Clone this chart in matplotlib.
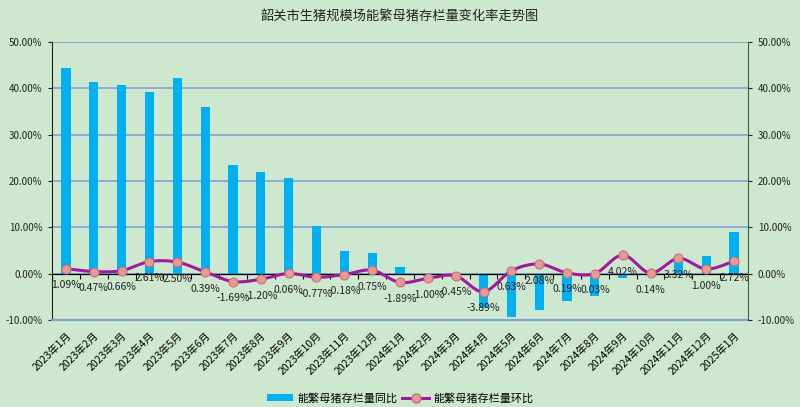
import numpy as np
import matplotlib
matplotlib.use("Agg")
import matplotlib.pyplot as plt
from matplotlib.ticker import FuncFormatter

plt.rcParams['font.family'] = ['Noto Sans CJK SC', 'DejaVu Sans']
plt.rcParams['axes.unicode_minus'] = False

# data
months = ['2023年1月', '2023年2月', '2023年3月', '2023年4月', '2023年5月', '2023年6月',
          '2023年7月', '2023年8月', '2023年9月', '2023年10月', '2023年11月', '2023年12月',
          '2024年1月', '2024年2月', '2024年3月', '2024年4月', '2024年5月', '2024年6月',
          '2024年7月', '2024年8月', '2024年9月', '2024年10月', '2024年11月', '2024年12月',
          '2025年1月']
yoy = [44.4, 41.3, 40.7, 39.2, 42.1, 35.9, 23.4, 22.0, 20.6, 10.3, 5.0, 4.5,
       1.4, -0.4, -0.9, -7.3, -9.3, -7.8, -5.8, -4.7, -0.9, 0.2, 3.6, 3.9, 8.9]
mom = [1.09, 0.47, 0.66, 2.61, 2.50, 0.39, -1.69, -1.20, 0.06, -0.77, -0.18, 0.75,
       -1.89, -1.00, -0.45, -3.89, 0.63, 2.08, 0.19, 0.03, 4.02, 0.14, 3.32, 1.00, 2.72]
yticks = [-10, 0, 10, 20, 30, 40, 50]

bg = '#CEE8CF'
bar_color = '#00B0F0'
line_color = '#A2189E'
grid_color = '#7FA3D6'


def smooth(xs, ys, n=20):
    # Bezier smoothing like a spreadsheet "smoothed line"
    xs = np.asarray(xs, float)
    ys = np.asarray(ys, float)
    px, py = [], []
    m = len(xs)
    for i in range(m - 1):
        i0, i3 = max(i - 1, 0), min(i + 2, m - 1)
        c1x = xs[i] + (xs[i + 1] - xs[i0]) / 6
        c1y = ys[i] + (ys[i + 1] - ys[i0]) / 6
        c2x = xs[i + 1] - (xs[i3] - xs[i]) / 6
        c2y = ys[i + 1] - (ys[i3] - ys[i]) / 6
        t = np.linspace(0, 1, n, endpoint=(i == m - 2))
        a, b, c, d = (1 - t) ** 3, 3 * (1 - t) ** 2 * t, 3 * (1 - t) * t ** 2, t ** 3
        px.append(a * xs[i] + b * c1x + c * c2x + d * xs[i + 1])
        py.append(a * ys[i] + b * c1y + c * c2y + d * ys[i + 1])
    return np.concatenate(px), np.concatenate(py)


fig = plt.figure(figsize=(8, 4.07), dpi=100, facecolor=bg)
ax = fig.add_axes([0.065, 0.2135, 0.87, 0.684])
ax.set_facecolor(bg)

x = np.arange(len(months))
bars = ax.bar(x, yoy, width=0.33, color=bar_color, zorder=2, label='能繁母猪存栏量同比')

ax.set_xlim(-0.5, len(months) - 0.5)
ax.set_ylim(-10, 50)
ax.set_yticks(yticks)
pct = FuncFormatter(lambda v, p: f'{v:.2f}%')
ax.yaxis.set_major_formatter(pct)
ax.tick_params(axis='y', length=3, width=0.8, labelsize=7, pad=4, colors='#222222')
ax.grid(axis='y', color=grid_color, lw=1.2, zorder=0)
ax.set_axisbelow(True)

ax.set_xticks(x)
ax.set_xticklabels(months, rotation=45, ha='right', va='top', rotation_mode='anchor', fontsize=7.5)
ax.tick_params(axis='x', length=0, pad=7)

# zero line with category boundary ticks
ax.axhline(0, color='black', lw=0.9, zorder=3)
ax.vlines(np.arange(len(months) + 1) - 0.5, -1.1, 0, color='black', lw=0.8, zorder=3)

ax.spines['top'].set_visible(False)
ax.spines['bottom'].set_color(grid_color)
ax.spines['bottom'].set_linewidth(1.6)
ax.spines['left'].set_color('#222222')
ax.spines['right'].set_visible(False)

ax2 = ax.twinx()
ax2.set_ylim(-10, 50)
ax2.set_yticks(yticks)
ax2.yaxis.set_major_formatter(pct)
ax2.tick_params(axis='y', length=3, width=0.8, labelsize=7, pad=4, colors='#222222')
ax2.spines['right'].set_color('#3E5E40')
ax2.spines['top'].set_visible(False)
ax2.spines['left'].set_visible(False)
ax2.spines['bottom'].set_visible(False)

sx, sy = smooth(x, mom)
ax2.plot(sx, sy, color=line_color, lw=2.2, zorder=4)
ax2.plot(x, mom, 'o', ms=6.5, mfc='#E39A98', mec='#C8706E', mew=0.8, zorder=5)
line_handle, = ax2.plot([], [], '-o', color=line_color, lw=2.2, ms=6.5,
                        mfc='#E39A98', mec='#C8706E', label='能繁母猪存栏量环比')

for xi, v in zip(x, mom):
    ax2.annotate(f'{v:.2f}%', (xi, v), xytext=(0, -12), textcoords='offset points',
                 ha='center', va='center', fontsize=7.5, color='#222222', zorder=6)

fig.text(0.5, 0.957, '韶关市生猪规模场能繁母猪存栏量变化率走势图', ha='center', va='center',
         fontsize=9.5, color='#222222')

fig.legend(handles=[bars, line_handle], loc='center', bbox_to_anchor=(0.5, 0.022), ncol=2,
           frameon=False, fontsize=8, handlelength=2.4, handleheight=0.5,
           columnspacing=0.4, handletextpad=0.4)

fig.savefig('out.png', dpi=100, facecolor=bg)
